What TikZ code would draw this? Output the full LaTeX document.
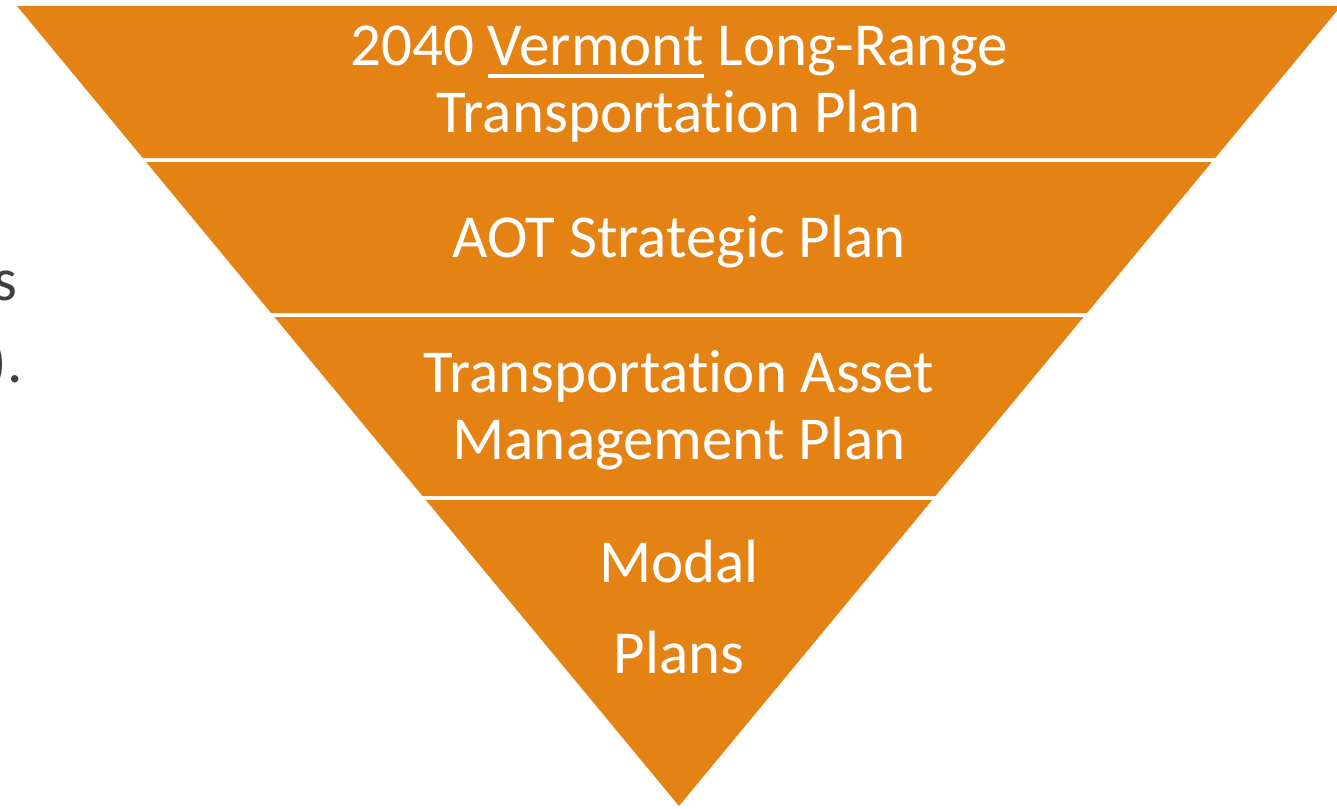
\documentclass[tikz,border=0pt]{standalone}
\usepackage{fontspec}
\setmainfont[Ligatures=NoCommon]{Carlito}
\definecolor{layerorange}{RGB}{228,131,20}
\definecolor{sidegray}{RGB}{64,64,64}
\newcommand\myuline[1]{\setbox0\hbox{#1}\rlap{\rule[-11.5pt]{\wd0}{4pt}}\box0\relax}
\begin{document}
\begin{tikzpicture}[x=1pt,y=-1pt,
  layer/.style={fill=layerorange,draw=none},
  lbl/.style={text=white,font=\fontsize{61}{66}\selectfont,anchor=base,inner sep=0pt},
  side/.style={text=sidegray,font=\fontsize{61}{66}\selectfont,anchor=base east,inner sep=0pt}]
\useasboundingbox (0,0) rectangle (1337,808);
\clip (0,0) rectangle (1337,808);
% layers
\fill[layer] (17,6) -- (1341,6) -- (1215.2,158) -- (142.8,158) -- cycle;
\fill[layer] (146.1,162) -- (1211.9,162) -- (1087,313) -- (271,313) -- cycle;
\fill[layer] (274.4,317) -- (1083.6,317) -- (935.5,496) -- (422.5,496) -- cycle;
\fill[layer] (425.8,500) -- (932.2,500) -- (679,806) -- cycle;
% labels
\node[lbl] (t1a) at (679,66) {2040 \myuline{Vermont} Long-Range};
\node[lbl] (t1b) at (679,132) {Transportation Plan};
\node[lbl] (t2) at (679,257) {AOT Strategic Plan};
\node[lbl] (t3a) at (679,392) {Transportation Asset};
\node[lbl] (t3b) at (679,459) {Management Plan};
\node[lbl] (t4a) at (679,582) {Modal};
\node[lbl] (t4b) at (679,673) {Plans};
% side text, cut off at the left edge as in the reference
\node[side] (s1) at (18,300) {s};
\node[side] (s2) at (23,382) {).};
\node[side] (s3) at (5,455) {:};
\end{tikzpicture}
\end{document}
